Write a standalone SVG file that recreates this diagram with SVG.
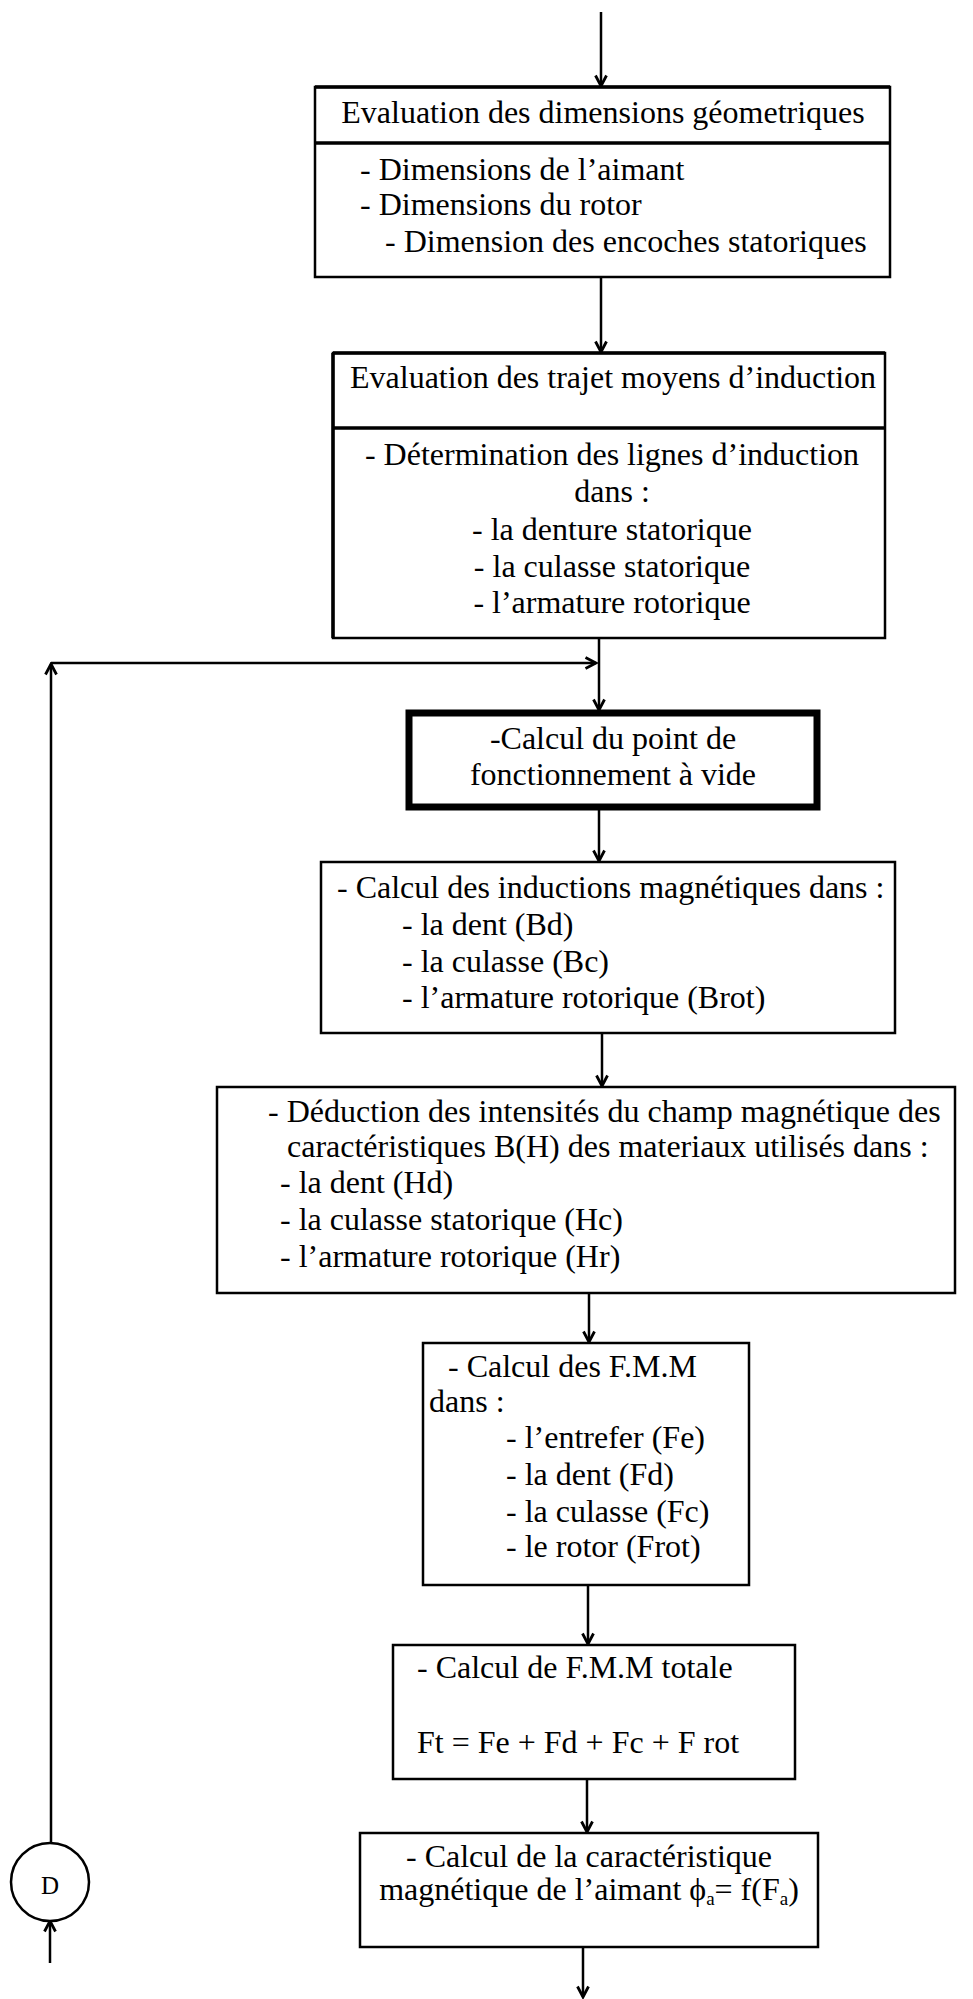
<svg xmlns="http://www.w3.org/2000/svg" width="973" height="1999" viewBox="0 0 973 1999">
<style>
  text { font-family: "Liberation Serif", "Times New Roman", serif; font-size: 32px; fill: #000; }
  .mid { text-anchor: middle; }
  .box { fill: #fff; stroke: #000; stroke-width: 2.5; }
  .thick { fill: #fff; stroke: #000; stroke-width: 7; }
  .edge { fill: none; stroke: #000; stroke-width: 2.5; marker-end: url(#arr); }
  .line { fill: none; stroke: #000; stroke-width: 3.5; }
  .sub { font-size: 19px; }
</style>
<defs>
  <marker id="arr" viewBox="0 0 14 14" refX="12" refY="7" markerWidth="14" markerHeight="14" markerUnits="userSpaceOnUse" orient="auto">
    <path d="M1.5,1.5 L12,7 L1.5,12.5" fill="none" stroke="#000" stroke-width="2.8"/>
  </marker>
</defs>
<rect width="973" height="1999" fill="#fff"/>

<g id="connectors">
  <path class="edge" d="M601,12 L601,86"/>
  <path class="edge" d="M601,277 L601,352"/>
  <path class="edge" d="M599,638 L599,710"/>
  <path class="edge" d="M51,1843 L51,664"/>
  <path class="edge" d="M51,663 L596,663"/>
  <path class="edge" d="M599,810 L599,861"/>
  <path class="edge" d="M602,1033 L602,1086"/>
  <path class="edge" d="M589,1293 L589,1342"/>
  <path class="edge" d="M588,1585 L588,1644"/>
  <path class="edge" d="M587,1779 L587,1832"/>
  <path class="edge" d="M583,1947 L583,1997"/>
  <path class="edge" d="M50,1963 L50,1921"/>
</g>

<g id="node-dimensions">
  <rect class="box" x="315" y="87" width="575" height="190"/>
  <path class="line" d="M315,87 H890 M315,143 H890"/>
  <text class="mid" x="603" y="123">Evaluation des dimensions géometriques</text>
  <text x="360" y="180">- Dimensions de l’aimant</text>
  <text x="360" y="215">- Dimensions du rotor</text>
  <text x="385" y="252">- Dimension des encoches statoriques</text>
</g>

<g id="node-trajets">
  <rect class="box" x="333" y="353" width="552" height="285"/>
  <path class="line" d="M333,353 H885 M333,428 H885 M333,353 V638"/>
  <text x="350" y="388">Evaluation des trajet moyens d’induction</text>
  <text class="mid" x="612" y="465">- Détermination des lignes d’induction</text>
  <text class="mid" x="612" y="502">dans :</text>
  <text class="mid" x="612" y="540">- la denture statorique</text>
  <text class="mid" x="612" y="577">- la culasse statorique</text>
  <text class="mid" x="612" y="613">- l’armature rotorique</text>
</g>

<g id="node-point">
  <rect class="thick" x="409" y="713" width="408" height="94"/>
  <text class="mid" x="613" y="749">-Calcul du point de</text>
  <text class="mid" x="613" y="785">fonctionnement à vide</text>
</g>

<g id="node-inductions">
  <rect class="box" x="321" y="862" width="574" height="171"/>
  <text x="337" y="898">- Calcul des inductions magnétiques dans :</text>
  <text x="402" y="935">- la dent (Bd)</text>
  <text x="402" y="972">- la culasse (Bc)</text>
  <text x="402" y="1008">- l’armature rotorique (Brot)</text>
</g>

<g id="node-champ">
  <rect class="box" x="217" y="1087" width="738" height="206"/>
  <text x="268" y="1122">- Déduction des intensités du champ magnétique des</text>
  <text x="287" y="1157">caractéristiques B(H) des materiaux utilisés dans :</text>
  <text x="280" y="1193">- la dent (Hd)</text>
  <text x="280" y="1230">- la culasse statorique (Hc)</text>
  <text x="280" y="1267">- l’armature rotorique (Hr)</text>
</g>

<g id="node-fmm">
  <rect class="box" x="423" y="1343" width="326" height="242"/>
  <text x="448" y="1377">- Calcul des F.M.M</text>
  <text x="429" y="1412">dans :</text>
  <text x="506" y="1448">- l’entrefer (Fe)</text>
  <text x="506" y="1485">- la dent (Fd)</text>
  <text x="506" y="1522">- la culasse (Fc)</text>
  <text x="506" y="1557">- le rotor (Frot)</text>
</g>

<g id="node-total">
  <rect class="box" x="393" y="1645" width="402" height="134"/>
  <text x="417" y="1678">- Calcul de F.M.M totale</text>
  <text x="417" y="1753">Ft = Fe + Fd + Fc + F rot</text>
</g>

<g id="node-aimant">
  <rect class="box" x="360" y="1833" width="458" height="114"/>
  <text class="mid" x="589" y="1867">- Calcul de la caractéristique</text>
  <text class="mid" x="589" y="1900">magnétique de l’aimant ϕ<tspan class="sub" dy="5">a</tspan><tspan dy="-5">= f(F</tspan><tspan class="sub" dy="5">a</tspan><tspan dy="-5">)</tspan></text>
</g>

<g id="node-D">
  <circle cx="50" cy="1882" r="39" fill="#fff" stroke="#000" stroke-width="2.5"/>
  <text class="mid" x="50" y="1894" style="font-size:25px">D</text>
</g>
</svg>
